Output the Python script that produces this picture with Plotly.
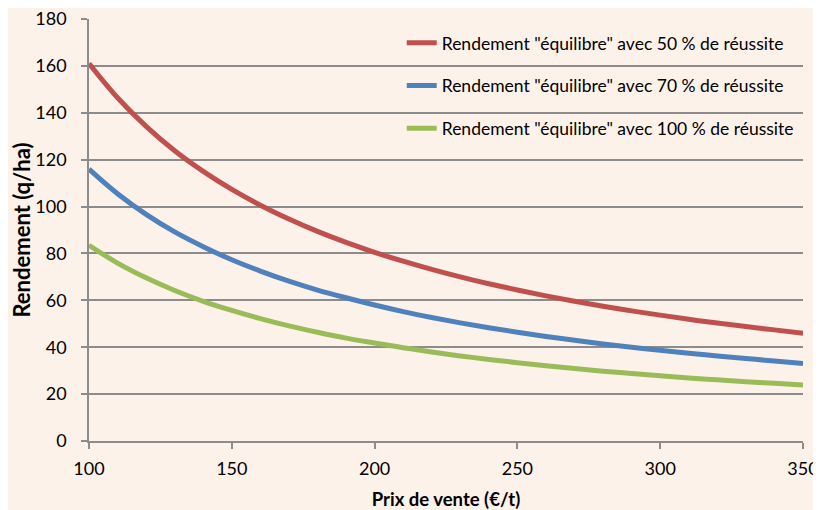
import plotly.graph_objects as go

prix = [100, 110, 120, 130, 140, 150, 160, 170, 180, 190, 200, 210, 220,
        230, 240, 250, 260, 270, 280, 290, 300, 310, 320, 330, 340, 350]

rdt_50 = [161, 146.4, 134.2, 123.8, 115, 107.3, 100.6, 94.7, 89.4, 84.7, 80.5,
          76.7, 73.2, 70, 67.1, 64.4, 61.9, 59.6, 57.5, 55.5, 53.7, 51.9, 50.3,
          48.8, 47.4, 46]
rdt_70 = [116, 105.5, 96.7, 89.2, 82.9, 77.3, 72.5, 68.2, 64.4, 61.1, 58, 55.2,
          52.7, 50.4, 48.3, 46.4, 44.6, 43, 41.4, 40, 38.7, 37.4, 36.3, 35.2,
          34.1, 33.1]
rdt_100 = [83.5, 75.9, 69.6, 64.2, 59.6, 55.7, 52.2, 49.1, 46.4, 43.9, 41.8,
           39.8, 38, 36.3, 34.8, 33.4, 32.1, 30.9, 29.8, 28.8, 27.8, 26.9, 26.1,
           25.3, 24.6, 23.9]

noms = ['Rendement "équilibre" avec 50 % de réussite',
        'Rendement "équilibre" avec 70 % de réussite',
        'Rendement "équilibre" avec 100 % de réussite']
couleurs = ["#C0504D", "#4F81BD", "#9BBB59"]

x_ticks = [100, 150, 200, 250, 300, 350]
y_ticks = [0, 20, 40, 60, 80, 100, 120, 140, 160, 180]

FONT = "Lato"
BG = "#FDF2EA"
GRID = "#8C8C8C"

fig = go.Figure()
for i, (serie, nom, c) in enumerate(zip([rdt_50, rdt_70, rdt_100], noms, couleurs)):
    fig.add_trace(go.Scatter(
        x=prix, y=serie, name=nom, mode="lines",
        line=dict(color=c, width=5, shape="spline"),
        legendgroup=f"g{i}",
    ))

fig.update_layout(
    width=813, height=502,
    margin=dict(l=81, r=18, t=11, b=69, autoexpand=False),
    paper_bgcolor=BG, plot_bgcolor=BG,
    font=dict(family=FONT, color="#000000", size=18),
    showlegend=True,
    legend=dict(
        x=0.438, y=0.986, xanchor="left", yanchor="top",
        bgcolor="rgba(0,0,0,0)",
        font=dict(family=FONT, size=17.5, color="#000000"),
        tracegroupgap=17,
    ),
    xaxis=dict(
        range=[100, 350], tickvals=x_ticks,
        showgrid=False, zeroline=False, automargin=False,
        showline=True, linecolor=GRID, linewidth=1.5,
        ticks="outside", ticklen=6, tickcolor=GRID, tickwidth=1.5,
        ticklabelstandoff=5, ticklabeloverflow="allow",
        tickfont=dict(family=FONT, size=18),
        title=dict(text="<b>Prix de vente (€/t)</b>",
                   font=dict(family=FONT, size=18.5), standoff=15),
    ),
    yaxis=dict(
        range=[0, 180.02], tickvals=y_ticks,
        showgrid=True, gridcolor=GRID, gridwidth=1.5,
        zeroline=False, automargin=False,
        showline=True, linecolor=GRID, linewidth=1.5,
        ticks="outside", ticklen=6, tickcolor=GRID, tickwidth=1.5,
        ticklabelstandoff=11, ticklabeloverflow="allow",
        tickfont=dict(family=FONT, size=18),
        title=dict(text="<b>Rendement (q/ha)</b>",
                   font=dict(family=FONT, size=22), standoff=3),
    ),
)

fig.write_html("out.html")
